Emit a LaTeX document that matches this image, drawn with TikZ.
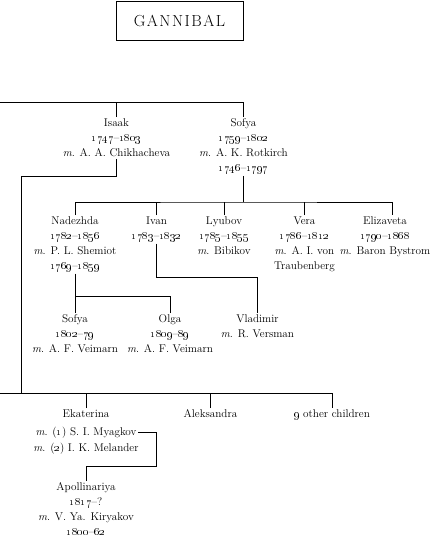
\documentclass[tikz,border=0pt]{standalone}
\usepackage{tikz}
\newcommand{\yr}[1]{\oldstylenums{#1}}
\newcommand{\lsp}{\kern1.5pt}
\tikzset{
  person/.style={align=center, anchor=north, inner sep=1.5pt,
    font=\fontsize{11.2}{15}\selectfont},
  family/.style={draw, line width=0.8pt, minimum width=127pt,
    minimum height=39pt, font=\fontsize{16}{18}\selectfont}
}

\begin{document}
\begin{tikzpicture}[x=1pt, y=-1pt, line width=0.8pt]
  \useasboundingbox (0, 0) rectangle (439, 538);

  \node[family] (gannibal) at (179.5, 20.5) {G\lsp A\lsp N\lsp N\lsp I\lsp B\lsp A\lsp L};

  % Abram's children
  \node[person] (isaak) at (116.5, 117) {Isaak\\ \yr{1747}--\yr{1803}\\ \emph{m}. A. A. Chikhacheva};
  \node[person] (sofya) at (243.5, 117) {Sofya\\ \yr{1759}--\yr{1802}\\ \emph{m}. A. K. Rotkirch\\ \yr{1746}--\yr{1797}};

  % Sofya's children
  \node[person] (nadezhda) at (75, 215) {Nadezhda\\ \yr{1782}--\yr{1856}\\ \emph{m}. P. L. Shemiot\\ \yr{1769}--\yr{1859}};
  \node[person] (ivan) at (156.5, 215) {Ivan\\ \yr{1783}--\yr{1832}};
  \node[person] (lyubov) at (224, 215) {Lyubov\\ \yr{1785}--\yr{1855}\\ \emph{m}. Bibikov};
  \node[person] (vera) at (304.5, 215) {Vera\\ \yr{1786}--\yr{1812}\\ \emph{m}. A. I. von\\ Traubenberg};
  \node[person] (elizaveta) at (385, 215) {Elizaveta\\ \yr{1790}--\yr{1868}\\ \emph{m}. Baron Bystrom};

  % grandchildren
  \node[person] (sofyaii) at (75, 313) {Sofya\\ \yr{1802}--\yr{79}\\ \emph{m}. A. F. Veimarn};
  \node[person] (olga) at (170, 313) {Olga\\ \yr{1809}--\yr{89}\\ \emph{m}. A. F. Veimarn};
  \node[person] (vladimir) at (257.5, 313) {Vladimir\\ \emph{m}. R. Versman};

  % Isaak's children
  \node[person] (ekaterina) at (86, 408) {Ekaterina};
  \node[person, anchor=base] (myagkov) at (86, 435) {\emph{m}. (\yr{1}) S. I. Myagkov};
  \node[person, anchor=base] (melander) at (86, 451) {\emph{m}. (\yr{2}) I. K. Melander};
  \node[person] (aleksandra) at (210.5, 408) {Aleksandra};
  \node[person] (nine) at (332, 408) {\yr{9} other children};
  \node[person] (apollinariya) at (86, 481) {Apollinariya\\ \yr{1817}--?\\ \emph{m}. V. Ya. Kiryakov\\ \yr{1800}--\yr{62}};

  \coordinate (gen1) at (0, 102);
  \coordinate (trunk) at (21, 176);
  \coordinate (gen2) at (0, 393);
  \coordinate (sofyakids) at (243.5, 202);
  \coordinate (lastkid) at (392, 215);
  \coordinate (nadkids) at (0, 296);
  \coordinate (ivankid) at (0, 277);
  \coordinate (kink) at (156, 466);

  \draw (gen1) -| (sofya.north);
  \draw (isaak.north) -- (isaak.north |- gen1);

  \draw (isaak.south) |- (trunk) |- (gen2);
  \draw (gen2) -| (nine.north);
  \foreach \k in {ekaterina, aleksandra}
    \draw (\k.north) -- (\k.north |- gen2);

  \draw (sofya.south) -- (sofyakids);
  \draw (nadezhda.north) |- (sofyakids) -| (lastkid |- elizaveta.north);
  \foreach \k in {ivan, lyubov, vera}
    \draw (\k.north) -- (\k.north |- sofyakids);

  \draw (nadezhda.south) -- (sofyaii.north);
  \draw (olga.north) |- (nadezhda.south |- nadkids);
  \draw (ivan.south) -- (ivan.south |- ivankid) -| (vladimir.north);

  \draw (myagkov.east) -| (kink) -| (apollinariya.north);
\end{tikzpicture}
\end{document}
